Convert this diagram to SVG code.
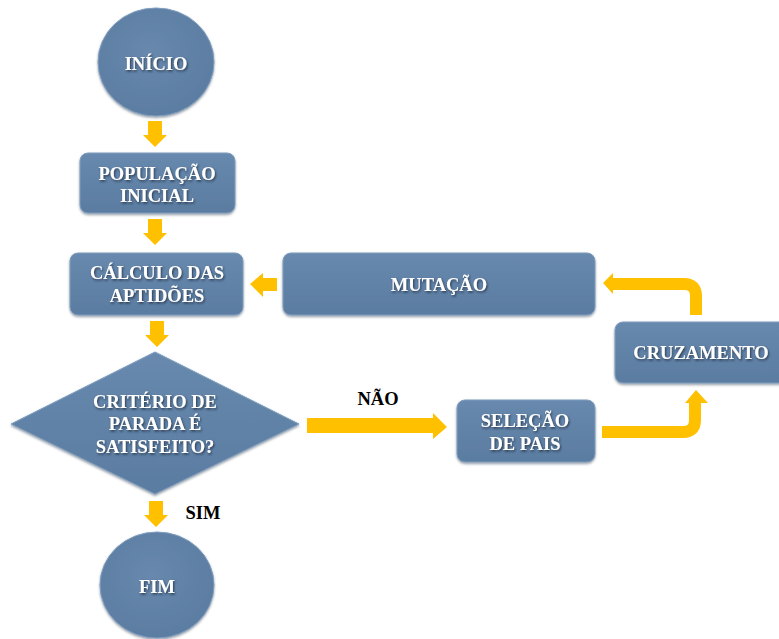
<svg xmlns="http://www.w3.org/2000/svg" width="779" height="639" viewBox="0 0 779 639">
<defs>
<linearGradient id="gb" x1="0" y1="0" x2="0" y2="1">
<stop offset="0" stop-color="#6889ae"/>
<stop offset="1" stop-color="#5b7ca1"/>
</linearGradient>
<radialGradient id="gc" cx="0.45" cy="0.4" r="0.7">
<stop offset="0" stop-color="#6888ad"/>
<stop offset="1" stop-color="#5a7ba0"/>
</radialGradient>
<filter id="sh" x="-10%" y="-10%" width="120%" height="130%">
<feDropShadow dx="0" dy="1.5" stdDeviation="1.2" flood-color="#2a3b50" flood-opacity="0.5"/>
</filter>
<filter id="ts" x="-10%" y="-20%" width="120%" height="150%">
<feDropShadow dx="1" dy="1.5" stdDeviation="0.8" flood-color="#1c2838" flood-opacity="0.8"/>
</filter>
<path id="down" d="M-7,0 H7 V14 H12 L0,26 L-12,14 H-7 Z"/>
</defs>
<style>
.box{fill:url(#gb);stroke:#7f9dbf;stroke-width:1;filter:url(#sh)}
.circ{fill:url(#gc);stroke:#7f9dbf;stroke-width:1;filter:url(#sh)}
.t{font-family:"Liberation Serif","Tinos","Times New Roman","DejaVu Serif",serif;font-weight:bold;font-size:18.5px;fill:#ffffff;text-anchor:middle;filter:url(#ts)}
.lbl{font-family:"Liberation Serif","Tinos","Times New Roman","DejaVu Serif",serif;font-weight:bold;font-size:18.5px;fill:#000000;text-anchor:middle}
.ar{fill:#ffc000}
.arl{fill:none;stroke:#ffc000;stroke-width:12}
</style>
<g id="connectors">
<use href="#down" class="ar" x="155" y="121"/>
<use href="#down" class="ar" x="155" y="219"/>
<use href="#down" class="ar" x="157" y="321"/>
<use href="#down" class="ar" x="156" y="501"/>
<path class="ar" d="M277,278 V291 H263 V297 L250,284 L263,273 V278 Z"/>
<path class="ar" d="M307,418 H433 V413 L447,427 L433,439 V433 H307 Z"/>
<path class="arl" d="M602,432 H683 Q695,432 695,420 V402"/>
<path class="ar" d="M685,403 H708 L696,390 Z"/>
<path class="arl" d="M696,315 V296 Q696,284 684,284 H612"/>
<path class="ar" d="M613,273 V294 L603,283 Z"/>
</g>
<g id="inicio">
<ellipse class="circ" cx="156" cy="62" rx="58" ry="54"/>
<text class="t" x="156" y="70">INÍCIO</text>
</g>
<g id="populacao">
<rect class="box" x="80" y="153" width="155" height="60" rx="8"/>
<text class="t" x="157" y="180">POPULAÇÃO</text>
<text class="t" x="157" y="202">INICIAL</text>
</g>
<g id="calculo">
<rect class="box" x="70" y="253" width="173" height="62" rx="8"/>
<text class="t" x="157" y="279">CÁLCULO DAS</text>
<text class="t" x="157" y="302">APTIDÕES</text>
</g>
<g id="mutacao">
<rect class="box" x="283" y="253" width="312" height="62" rx="8"/>
<text class="t" x="439" y="291">MUTAÇÃO</text>
</g>
<g id="cruzamento">
<rect class="box" x="615" y="322" width="172" height="61" rx="8"/>
<text class="t" x="701" y="359">CRUZAMENTO</text>
</g>
<g id="selecao">
<rect class="box" x="457" y="400" width="138" height="62" rx="8"/>
<text class="t" x="525" y="427">SELEÇÃO</text>
<text class="t" x="525" y="450">DE PAIS</text>
</g>
<g id="criterio">
<path class="box" d="M155,352 L299,424 L155,494 L11,424 Z"/>
<text class="t" x="155" y="408">CRITÉRIO DE</text>
<text class="t" x="155" y="430">PARADA É</text>
<text class="t" x="155" y="453">SATISFEITO?</text>
</g>
<g id="fim">
<ellipse class="circ" cx="157" cy="585" rx="57" ry="53"/>
<text class="t" x="157" y="593">FIM</text>
</g>
<text class="lbl" x="378" y="405">NÃO</text>
<text class="lbl" x="203" y="519">SIM</text>
</svg>
